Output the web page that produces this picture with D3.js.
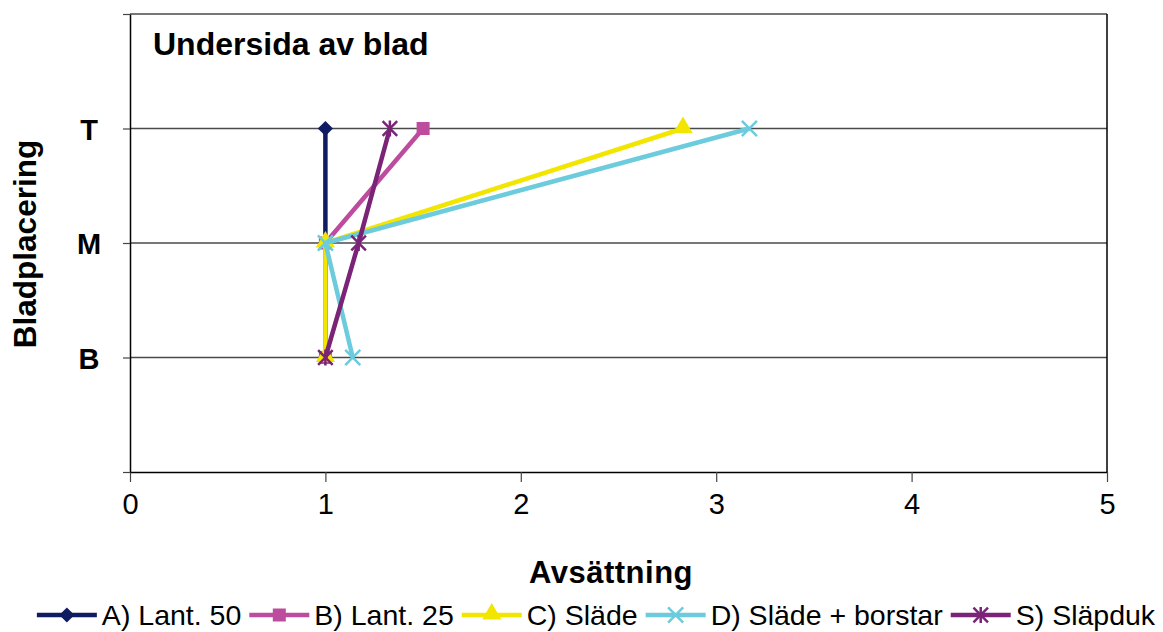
<!DOCTYPE html>
<html>
<head>
<meta charset="utf-8">
<script src="https://cdn.jsdelivr.net/npm/d3@7/dist/d3.min.js"></script>
<style>
  html, body { margin: 0; padding: 0; background: #fff; }
  svg { display: block; font-family: "Liberation Sans", Arial, sans-serif; }
</style>
</head>
<body>
<svg id="chart" width="1163" height="632"></svg>
<script>
// Leaf positions (value on y) and series deposition values read per position
const positions = ["B", "M", "T"];
const positionValues = [1, 2, 3];
const xTicks = [0, 1, 2, 3, 4, 5];

const seriesNames = ["A) Lant. 50", "B) Lant. 25", "C) Släde", "D) Släde + borstar", "S) Släpduk"];
const seriesColors = ["#101c62", "#bd4c9f", "#f2e600", "#6ccbdc", "#7a2377"];
const seriesMarkers = ["diamond", "square", "triangle", "cross", "asterisk"];

// values in order B, M, T
const lant50 = [1, 1, 1];
const lant25 = [1, 1, 1.5];
const slade = [1, 1, 2.83];
const sladeBorstar = [1.14, 1, 3.17];
const slapduk = [1, 1.17, 1.33];
const seriesValues = [lant50, lant25, slade, sladeBorstar, slapduk];

const svg = d3.select("#chart");
const plotLeft = 130, plotRight = 1107, plotTop = 14, plotBottom = 472;

const x = d3.scaleLinear().domain([0, 5]).range([plotLeft, plotRight]);
const y = d3.scaleLinear().domain([0, 4]).range([plotBottom, plotTop]);

// horizontal gridlines
svg.append("g").selectAll("line")
  .data([1, 2, 3, 4])
  .join("line")
  .attr("x1", plotLeft).attr("x2", plotRight)
  .attr("y1", d => y(d)).attr("y2", d => y(d))
  .attr("stroke", "#4a4a4a").attr("stroke-width", 1.5);

// right border
svg.append("line")
  .attr("x1", plotRight).attr("x2", plotRight).attr("y1", plotTop).attr("y2", plotBottom)
  .attr("stroke", "#000").attr("stroke-width", 1.5);

// x axis
const xAxis = svg.append("g")
  .attr("transform", `translate(0,${plotBottom})`)
  .call(d3.axisBottom(x).tickValues(xTicks).tickFormat(d3.format("d"))
    .tickSize(10).tickSizeOuter(0).tickPadding(11));
xAxis.select(".domain").attr("stroke", "#000").attr("stroke-width", 1.5);
xAxis.selectAll(".tick line").attr("stroke", "#444").attr("stroke-width", 1.2);
xAxis.selectAll(".tick text")
  .attr("font-size", 29).attr("fill", "#000")
  .attr("font-family", "Liberation Sans, Arial, sans-serif");

// y axis
const yAxis = svg.append("g")
  .attr("transform", `translate(${plotLeft},0)`)
  .call(d3.axisLeft(y).tickValues([0, 1, 2, 3, 4]).tickSize(7).tickSizeOuter(0).tickFormat(() => ""));
yAxis.select(".domain").attr("stroke", "#000").attr("stroke-width", 1.5);
yAxis.selectAll(".tick line").attr("stroke", "#444").attr("stroke-width", 1.2);

svg.append("g").selectAll("text")
  .data(positions)
  .join("text")
  .attr("x", 89)
  .attr("y", (d, i) => y(positionValues[i]) + 11)
  .attr("text-anchor", "middle")
  .attr("font-size", 29).attr("font-weight", "bold")
  .text(d => d);

// titles
svg.append("text")
  .attr("x", 153).attr("y", 55)
  .attr("font-size", 32).attr("font-weight", "bold")
  .text("Undersida av blad");

svg.append("text")
  .attr("x", 611).attr("y", 583)
  .attr("text-anchor", "middle")
  .attr("font-size", 31).attr("font-weight", "bold")
  .attr("letter-spacing", 0.5)
  .text("Avsättning");

svg.append("text")
  .attr("transform", "translate(36,244) rotate(-90)")
  .attr("text-anchor", "middle")
  .attr("font-size", 31.5).attr("font-weight", "bold")
  .text("Bladplacering");

// marker drawing
function drawMarker(g, type, color, cx, cy) {
  if (type === "diamond") {
    g.append("path").attr("d", d3.symbol(d3.symbolSquare, 115)())
      .attr("transform", `translate(${cx},${cy}) rotate(45)`)
      .attr("fill", color);
  } else if (type === "square") {
    g.append("rect").attr("x", cx - 6.5).attr("y", cy - 6.5)
      .attr("width", 13).attr("height", 13).attr("fill", color);
  } else if (type === "triangle") {
    g.append("path").attr("d", d3.symbol(d3.symbolTriangle, 160)())
      .attr("transform", `translate(${cx},${cy - 1})`)
      .attr("fill", color);
  } else if (type === "cross") {
    g.append("path").attr("d", d3.symbol(d3.symbolTimes, 150)())
      .attr("transform", `translate(${cx},${cy})`)
      .attr("fill", "none").attr("stroke", color).attr("stroke-width", 2.5);
  } else if (type === "asterisk") {
    g.append("path").attr("d", d3.symbol(d3.symbolTimes, 140)())
      .attr("transform", `translate(${cx},${cy})`)
      .attr("fill", "none").attr("stroke", color).attr("stroke-width", 2.5);
    g.append("line").attr("x1", cx).attr("x2", cx).attr("y1", cy - 8).attr("y2", cy + 8)
      .attr("stroke", color).attr("stroke-width", 2.5);
  }
}

// series
const line = d3.line().x(d => x(d.v)).y(d => y(d.p));
seriesValues.forEach((vals, si) => {
  const pts = vals.map((v, i) => ({ v, p: positionValues[i] }));
  const g = svg.append("g");
  g.append("path").datum(pts)
    .attr("d", line)
    .attr("fill", "none")
    .attr("stroke", seriesColors[si])
    .attr("stroke-width", 4.5)
    .attr("stroke-linejoin", "round");
  pts.forEach(d => drawMarker(g, seriesMarkers[si], seriesColors[si], x(d.v), y(d.p)));
});

// legend
const legend = svg.append("g");
const legendY = 615;
let cursor = 0;
seriesNames.forEach((name, i) => {
  const g = legend.append("g");
  g.append("line").attr("x1", cursor).attr("x2", cursor + 60)
    .attr("y1", legendY).attr("y2", legendY)
    .attr("stroke", seriesColors[i]).attr("stroke-width", 4.5);
  drawMarker(g, seriesMarkers[i], seriesColors[i], cursor + 30, legendY);
  const t = g.append("text").attr("x", cursor + 65).attr("y", legendY + 10)
    .attr("font-size", 28.5).text(name);
  cursor += 65 + t.node().getComputedTextLength() + 8;
});
const totalW = cursor - 8;
legend.attr("transform", `translate(${596 - totalW / 2},0)`);
</script>
</body>
</html>
